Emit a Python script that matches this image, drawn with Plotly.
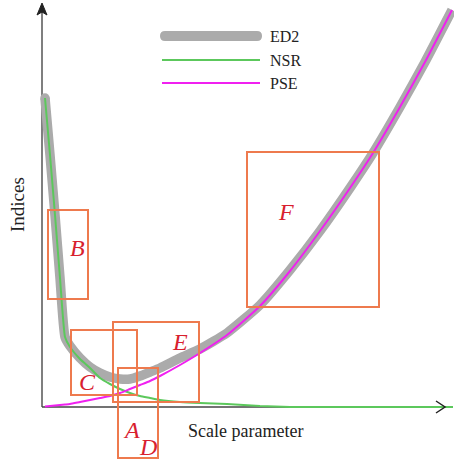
import plotly.graph_objects as go

# ---- data (scale parameter vs. index values, arbitrary units) ----
scale = [3, 8, 13, 18, 23, 28, 38, 48, 58, 68, 78, 88, 98, 108, 118, 138, 158, 185,
         218, 248, 278, 308, 331, 358, 383, 410]
ed2 = [309, 252, 192, 129, 70, 61, 49, 40, 34, 30, 28, 28, 31, 35, 39, 49, 58, 74,
       102, 137, 176, 219, 254, 300, 345, 397]
nsr = [309, 252, 192, 129, 70, 60, 48, 39, 29, 23, 18, 14, 11, 9, 7, 5, 4, 3,
       1, 0, 0, 0, 0, 0, 0, 0]
pse = [0.5, 1, 1.5, 2, 2.5, 3, 5, 7, 9, 11, 14, 18, 22, 26, 31, 42, 54, 72,
       101, 136, 176, 219, 254, 300, 345, 397]
series_names = ["ED2", "NSR", "PSE"]
box_labels = ["B", "C", "E", "A", "D", "F"]

W, H = 454, 462
X0, Y0 = 42, 407  # pixel position of the origin


def X(px):
    return px - X0


def Y(py):
    return Y0 - py


GRAY = "#ABABAB"
GREEN = "#5CC85C"
MAGENTA = "#F020F0"
BOX = "#EE7A4E"
RED = "#D8202E"
SERIF = "Liberation Serif, Times New Roman, serif"

fig = go.Figure()
fig.add_trace(go.Scatter(x=scale, y=ed2, mode="lines", name=series_names[0],
                         line=dict(color=GRAY, width=9.5, shape="spline", smoothing=0.5),
                         hoverinfo="skip"))
fig.add_trace(go.Scatter(x=scale[:1], y=ed2[:1], mode="markers", showlegend=False,
                         marker=dict(color=GRAY, size=9.5), hoverinfo="skip"))
fig.add_trace(go.Scatter(x=scale + [X(453)], y=nsr + [0], mode="lines", name=series_names[1],
                         line=dict(color=GREEN, width=2, shape="spline", smoothing=0.4),
                         hoverinfo="skip"))
fig.add_trace(go.Scatter(x=scale, y=pse, mode="lines", name=series_names[2],
                         line=dict(color=MAGENTA, width=2, shape="spline", smoothing=0.5),
                         hoverinfo="skip"))

shapes = []
# axes
shapes.append(dict(type="line", xref="x", yref="y", x0=0, y0=0, x1=0, y1=Y(8),
                   line=dict(color="#555555", width=1.5), layer="below"))
shapes.append(dict(type="path", xref="x", yref="y",
                   path=f"M {X(42)},{Y(3)} L {X(37)},{Y(15)} L {X(42)},{Y(12)} L {X(47)},{Y(15)} Z",
                   fillcolor="#222222", line=dict(color="#222222", width=1), layer="below"))
shapes.append(dict(type="line", xref="x", yref="y", x0=0, y0=0, x1=X(445), y1=0,
                   line=dict(color="#444444", width=1.5), layer="below"))
shapes.append(dict(type="path", xref="x", yref="y",
                   path=f"M {X(436)},{Y(401)} L {X(445)},{Y(407)} L {X(436)},{Y(413)}",
                   line=dict(color="#222222", width=1.5), layer="above"))

# boxes
boxes = [(48, 210, 88, 299), (71, 330, 137, 395), (113, 322, 199, 402),
         (118, 368, 158, 458), (247, 152, 379, 307)]
for (a, b, c, d) in boxes:
    shapes.append(dict(type="rect", xref="x", yref="y", x0=X(a), y0=Y(b), x1=X(c), y1=Y(d),
                       line=dict(color=BOX, width=2), fillcolor="rgba(0,0,0,0)"))

# legend samples
r = 5
lx0, lx1, ly = 160, 262, 36
shapes.append(dict(type="path", xref="x", yref="y",
                   path=(f"M {X(lx0 + r)},{Y(ly - r)} L {X(lx1 - r)},{Y(ly - r)} "
                         f"Q {X(lx1)},{Y(ly - r)} {X(lx1)},{Y(ly)} Q {X(lx1)},{Y(ly + r)} {X(lx1 - r)},{Y(ly + r)} "
                         f"L {X(lx0 + r)},{Y(ly + r)} Q {X(lx0)},{Y(ly + r)} {X(lx0)},{Y(ly)} "
                         f"Q {X(lx0)},{Y(ly - r)} {X(lx0 + r)},{Y(ly - r)} Z"),
                   fillcolor=GRAY, line=dict(width=0)))
shapes.append(dict(type="line", xref="x", yref="y", x0=X(162), y0=Y(60), x1=X(260), y1=Y(60),
                   line=dict(color=GREEN, width=2)))
shapes.append(dict(type="line", xref="x", yref="y", x0=X(162), y0=Y(83), x1=X(260), y1=Y(83),
                   line=dict(color=MAGENTA, width=2)))

annotations = []
for name, py in zip(series_names, [36, 60, 83]):
    annotations.append(dict(x=X(268), y=Y(py), xref="x", yref="y", text=name, showarrow=False,
                            xanchor="left", yanchor="middle",
                            font=dict(family=SERIF, size=16, color="#222222")))
label_pos = [(77, 248), (87, 382), (180, 342), (131, 430), (148, 447), (286, 212)]
for t, (px, py) in zip(box_labels, label_pos):
    annotations.append(dict(x=X(px), y=Y(py), xref="x", yref="y", text=f"<i>{t}</i>",
                            showarrow=False, xanchor="center", yanchor="middle",
                            font=dict(family=SERIF, size=24, color=RED)))
annotations.append(dict(x=X(245), y=Y(431), xref="x", yref="y", text="Scale parameter",
                        showarrow=False, xanchor="center", yanchor="middle",
                        font=dict(family=SERIF, size=18, color="#222222")))
annotations.append(dict(x=X(17), y=Y(205), xref="x", yref="y", text="Indices", textangle=-90,
                        showarrow=False, xanchor="center", yanchor="middle",
                        font=dict(family=SERIF, size=19, color="#222222")))

fig.update_layout(
    width=W, height=H, autosize=False,
    margin=dict(l=0, r=0, t=0, b=0),
    paper_bgcolor="white", plot_bgcolor="white",
    showlegend=False,
    xaxis=dict(range=[X(0), X(W)], visible=False, fixedrange=True),
    yaxis=dict(range=[Y(H), Y(0)], visible=False, fixedrange=True),
    shapes=shapes, annotations=annotations,
)
fig.write_html("out.html", config={"displayModeBar": False},
               post_script="document.body.style.margin='0';document.body.style.overflow='hidden';")
